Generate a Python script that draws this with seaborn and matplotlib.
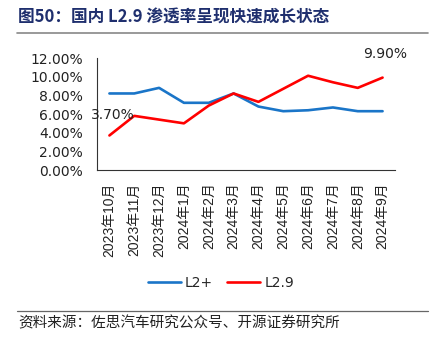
import matplotlib
matplotlib.use("Agg")
import matplotlib.pyplot as plt
import seaborn as sns
import pandas as pd
import numpy as np
from matplotlib.lines import Line2D
from matplotlib.ticker import FixedLocator, FuncFormatter

months = ["2023年10月", "2023年11月", "2023年12月", "2024年1月", "2024年2月", "2024年3月",
          "2024年4月", "2024年5月", "2024年6月", "2024年7月", "2024年8月", "2024年9月"]
l2plus = [8.2, 8.2, 8.8, 7.2, 7.2, 8.2, 6.8, 6.3, 6.4, 6.7, 6.3, 6.3]
l29 = [3.7, 5.8, 5.4, 5.0, 6.9, 8.2, 7.3, 8.7, 10.1, 9.4, 8.8, 9.9]
yticks = [0, 2, 4, 6, 8, 10, 12]

sns.set_theme(style="white")
plt.rcParams['font.family'] = ['Noto Sans CJK SC', 'DejaVu Sans']

idx = np.arange(len(months))
df = pd.DataFrame({
    "x": np.concatenate([idx, idx]),
    "v": l2plus + l29,
    "s": ["L2+"] * len(months) + ["L2.9"] * len(months),
})

fig = plt.figure(figsize=(4.41, 3.43), dpi=100)
ax = fig.add_axes([97/441, 1 - 170/343, (395-97)/441, (170-58)/343])
palette = {"L2+": "#1a75c8", "L2.9": "#ff0000"}
sns.lineplot(data=df, x="x", y="v", hue="s", palette=palette, linewidth=1.9, ax=ax, legend=False)

ax.set_xlim(-0.5, len(months) - 0.5)
ax.set_ylim(0, 12)
ax.set_xlabel("")
ax.set_ylabel("")
ax.set_yticks(yticks)
ax.yaxis.set_major_formatter(FuncFormatter(lambda v, p: f"{v:.2f}%"))
ax.tick_params(axis="y", length=0, labelsize=10, pad=10, colors="#222222")
for t in ax.get_yticklabels():
    t.set_family(['DejaVu Sans'])
ax.set_xticks(idx)
ax.set_xticklabels(months, rotation=90, fontsize=10, family=['Liberation Sans', 'Noto Sans CJK SC'])
ax.tick_params(axis="x", which="major", length=0, pad=9, colors="#222222")
ax.xaxis.set_minor_locator(FixedLocator(np.arange(-0.5, len(months), 1.0)))
ax.tick_params(axis="x", which="minor", direction="in", length=5, width=0.8, color="#333333")
for s in ["top", "right"]:
    ax.spines[s].set_visible(False)
for s in ["left", "bottom"]:
    ax.spines[s].set_color("#333333")
    ax.spines[s].set_linewidth(0.8)

ax.annotate(f"{l29[0]:.2f}%", (0, l29[0]), xytext=(-13, 15), textcoords="offset points",
            fontsize=10, color="#222222", ha="left", va="center", family=['DejaVu Sans'])
ax.annotate(f"{l29[-1]:.2f}%", (len(months) - 1, l29[-1]), xytext=(-14, 17), textcoords="offset points",
            fontsize=10, color="#222222", ha="left", va="center", family=['DejaVu Sans'])

handles = [Line2D([], [], color=palette["L2+"], lw=1.9), Line2D([], [], color=palette["L2.9"], lw=1.9)]
fig.legend(handles, ["L2+", "L2.9"], loc="center", bbox_to_anchor=(221/441, 1 - 283/343), ncol=2,
           frameon=False, fontsize=10, handlelength=2.4, columnspacing=1.0, handletextpad=0.3,
           prop={'family': ['DejaVu Sans'], 'size': 10})

fig.text(18/441, 1 - 18/343, "图50：国内 L2.9 渗透率呈现快速成长状态", fontsize=12, fontweight="bold",
         color="#1f2f6e", ha="left", va="center")
fig.add_artist(Line2D([17/441, 428/441], [1 - 33/343, 1 - 33/343], color="#888888", lw=1.2))
fig.add_artist(Line2D([17/441, 428/441], [1 - 311/343, 1 - 311/343], color="#666666", lw=0.9))
fig.text(18/441, 1 - 323/343, "资料来源：佐思汽车研究公众号、开源证券研究所", fontsize=10.5,
         color="#222222", ha="left", va="center")

fig.savefig("out.png", dpi=100)
